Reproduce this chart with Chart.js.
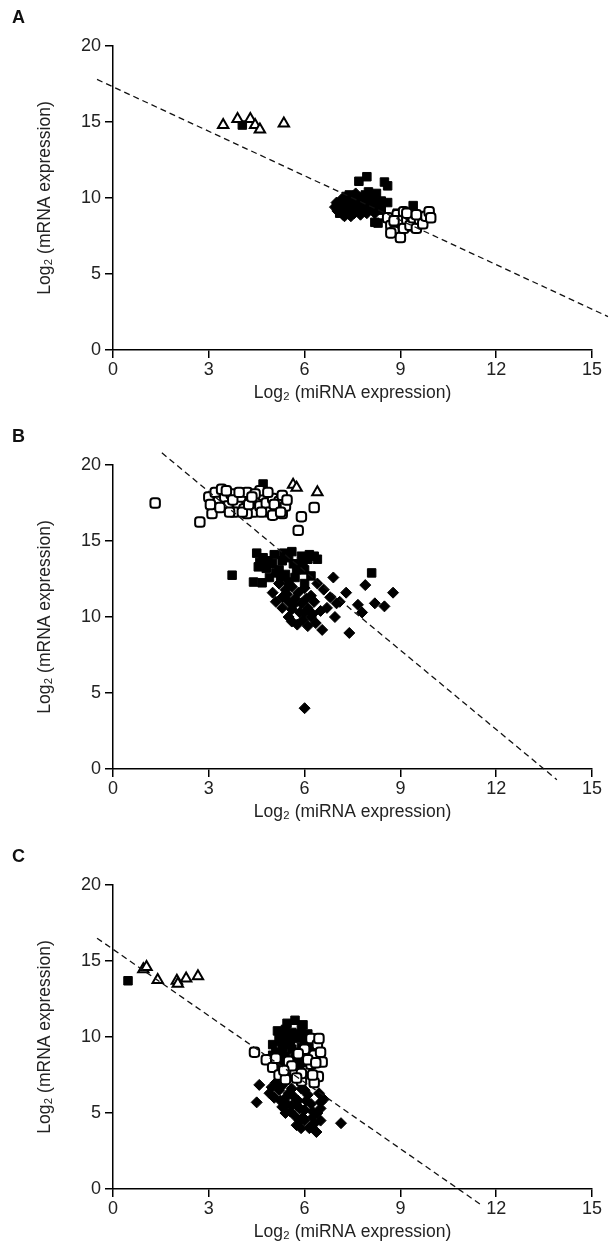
<!DOCTYPE html>
<html>
<head>
<meta charset="utf-8">
<script src="https://cdn.jsdelivr.net/npm/chart.js@4.4.0/dist/chart.umd.min.js"></script>
<style>
  html, body { margin: 0; background: #fff; overflow: hidden; }
  .panel { position: absolute; left: 0; width: 609px; height: 419px; }
  .tag { position: absolute; left: 12px; top: 7px; font: bold 18px "Liberation Sans", Arial, sans-serif; color: #111; }
</style>
</head>
<body>
<div class="panel" style="top:0px"><canvas id="chartA" width="609" height="419"></canvas><div class="tag">A</div></div>
<div class="panel" style="top:419px"><canvas id="chartB" width="609" height="419"></canvas><div class="tag">B</div></div>
<div class="panel" style="top:839px"><canvas id="chartC" width="609" height="419"></canvas><div class="tag">C</div></div>
<script>
const xTicks = [0, 3, 6, 9, 12, 15];
const yTicks = [0, 5, 10, 15, 20];
const xTitle = "Log\u2082 (miRNA expression)";
const yTitle = "Log\u2082 (mRNA expression)";

// panel A
const aTriangles = [[3.45,14.8],[3.9,15.2],[4.3,15.2],[4.45,14.8],[4.6,14.5],[5.35,14.9]];
const aFilledSquares = [[4.05,14.8],[7.7,11.1],[7.95,11.4],[8.5,11.05],[8.6,10.8],[8.6,9.7],[9.4,9.5],
  [8.2,8.4],[8.3,8.35],[7.9,10.2],[8.0,10.4],[8.1,10.1],[8.2,9.9],[7.8,10.0],[8.3,9.4],[7.4,10.2],
  [7.5,9.9],[7.2,9.5],[7.0,9.4],[7.1,9.0],[7.6,9.6],[7.8,9.3],[8.0,9.7],[8.4,9.2],[8.7,8.6],[9.0,8.3],
  [9.2,8.1],[8.9,9.0],[9.5,8.4],[9.7,8.8],[7.3,10.1],[7.9,9.8],[8.25,10.3],[7.7,10.05],[8.4,9.8]];
const aDiamonds = [[6.95,9.4],[7.05,9.1],[7.2,8.9],[7.35,9.2],[7.45,8.8],[7.55,9.0],[7.65,9.3],[7.75,8.9],
  [7.9,9.1],[7.3,9.6],[7.5,9.5],[7.4,10.0],[7.6,10.3],[7.7,9.7],[7.85,9.5],[8.0,9.3],[8.1,9.6],[8.2,9.0],
  [7.15,9.3],[7.25,8.8],[7.45,9.7],[7.6,9.1],[8.1,9.4],[7.0,9.7],[7.15,9.9],[7.35,9.45],[7.55,9.35],[7.95,9.0]];
const aOpenSquares = [[8.6,8.7],[8.7,8.2],[8.8,7.8],[8.9,8.9],[9.0,7.4],[9.0,8.5],[9.1,9.1],[9.1,8.0],
  [9.2,8.6],[9.3,8.2],[9.3,8.9],[9.4,8.7],[9.5,8.0],[9.6,8.6],[9.7,8.3],[9.8,8.8],[9.9,9.1],[9.95,8.7],
  [8.8,8.5],[9.2,9.0],[8.7,7.7],[9.5,8.9]];
const aLine = [[-0.5,17.8],[15.5,2.2]];

// panel B
const bTriangles = [[5.64,18.7],[5.75,18.5],[6.4,18.2]];
const bFilledSquares = [[4.7,18.75],[3.73,12.75],[4.4,12.3],[4.67,12.25],[8.1,12.9],[4.5,14.2],[4.6,13.6],
  [4.8,13.2],[4.7,13.9],[5.0,13.5],[5.2,13.1],[5.3,13.7],[5.5,13.9],[5.6,14.3],[5.8,13.4],[5.9,14.0],
  [6.1,13.8],[6.3,14.0],[6.4,13.8],[5.4,12.8],[5.7,12.6],[6.0,13.1],[5.1,12.9],[6.2,12.7],[4.9,12.6],
  [5.5,12.3],[6.0,12.2],[4.55,13.3],[4.85,13.7],[5.05,14.1],[5.35,14.2],[5.65,13.5],[5.95,13.6],
  [6.15,14.1],[5.25,12.6],[5.75,13.1]];
const bDiamonds = [[5.2,12.2],[5.4,11.8],[5.6,12.0],[5.8,11.6],[6.0,11.9],[6.2,11.4],[5.3,11.3],[5.5,11.0],
  [5.7,11.2],[5.9,10.9],[6.1,10.6],[6.3,11.0],[6.5,10.4],[5.5,10.0],[5.77,9.5],[6.2,10.0],[6.55,9.15],
  [7.4,8.95],[6.95,10.0],[7.0,10.9],[7.3,11.6],[7.67,10.8],[7.8,10.3],[6.9,12.6],[7.9,12.1],[8.77,11.6],
  [8.2,10.9],[8.5,10.7],[6.0,4.0],[6.6,11.8],[6.8,11.3],[7.1,11.0],[5.0,11.6],[6.4,12.2],[5.6,10.5],[6.0,10.3],
  [5.1,11.0],[5.3,10.6],[5.45,11.5],[5.65,10.8],[5.85,10.3],[6.05,11.2],[6.25,10.2],[5.95,9.8],[5.6,9.7],
  [6.35,9.6],[6.7,10.6],[6.1,9.4]];
const bOpenSquares = [[1.32,17.5],[2.72,16.25],[3.1,16.8],[5.8,15.7],[5.9,16.6],[6.3,17.2],[3.0,17.9],
  [3.2,18.2],[3.3,17.6],[3.5,17.9],[3.6,17.3],[3.7,18.1],[3.9,17.5],[4.0,17.9],[4.1,17.1],[4.2,18.2],
  [4.3,17.6],[4.4,16.9],[4.5,17.8],[4.6,17.3],[4.7,18.0],[4.8,17.5],[4.9,16.9],[5.0,17.8],[5.1,17.2],
  [5.2,17.6],[5.3,16.8],[5.4,17.3],[5.0,16.7],[4.2,16.8],[3.8,16.9],[5.3,18.0],[4.6,18.3],[3.4,18.4],
  [3.05,17.4],[3.35,17.2],[3.55,18.3],[3.75,17.7],[3.95,18.2],[4.05,16.9],[4.25,17.4],[4.45,18.1],
  [4.65,16.9],[4.85,18.2],[5.05,17.4],[5.25,16.9],[5.45,17.7],[4.35,17.9],[3.65,16.9]];
const bLine = [[1.53,20.8],[13.9,-0.7]];

// panel C
const cTriangles = [[0.95,14.45],[1.05,14.6],[1.4,13.75],[2.0,13.7],[2.03,13.5],[2.29,13.85],[2.66,14.0]];
const cFilledSquares = [[0.47,13.7],[5.7,11.1],[5.4,10.5],[5.6,10.3],[5.9,10.5],[6.1,10.2],[5.2,10.0],
  [5.5,9.8],[5.8,9.9],[6.0,9.6],[5.3,9.4],[5.6,9.2],[5.9,9.3],[6.2,9.0],[5.1,9.0],[5.4,8.7],[5.7,8.6],
  [6.0,8.4],[5.2,8.3],[5.5,8.0],[5.8,7.9],[6.1,8.8],[5.35,10.2],[5.0,9.5],[5.95,10.8],[5.15,10.4],
  [5.45,10.9],[5.65,10.0],[5.85,10.2],[6.05,10.0],[5.25,9.7],[5.55,9.5],[5.75,9.0],[5.95,8.7],[5.3,8.9],
  [5.45,8.4],[5.65,8.3],[5.85,8.1],[5.2,7.9],[5.0,8.8],[6.15,9.4],[5.5,7.6]];
const cDiamonds = [[4.58,6.85],[4.5,5.7],[4.97,6.7],[7.14,4.33],[5.89,4.0],[6.37,3.75],[6.5,4.5],[5.2,6.5],
  [5.4,6.0],[5.6,5.5],[5.8,5.8],[6.0,5.2],[6.2,5.6],[6.4,5.0],[5.3,5.4],[5.5,6.3],[5.7,4.8],[5.9,6.6],
  [6.1,6.2],[6.3,4.3],[6.5,5.3],[6.6,5.9],[5.1,7.0],[5.4,5.0],[6.0,4.5],[5.75,4.2],[6.15,4.0],[6.45,6.3],
  [4.9,6.3],[5.05,6.0],[5.25,5.8],[5.45,5.6],[5.65,6.1],[5.85,5.3],[6.05,5.8],[6.25,5.1],[5.55,5.1],
  [5.75,5.5],[5.95,4.7],[6.25,4.7],[6.5,5.7],[5.3,6.8],[5.6,6.6],[6.0,6.5],[6.2,4.1],[5.85,4.5]];
const cOpenSquares = [[4.43,9.0],[4.8,8.5],[5.0,8.0],[5.2,7.5],[5.4,7.2],[6.2,9.9],[6.4,9.5],[6.55,8.35],
  [6.43,7.4],[6.3,8.8],[6.1,7.8],[5.9,7.1],[5.7,7.6],[6.3,7.0],[5.5,8.4],[6.0,9.2],[6.5,9.0],[5.1,8.6],
  [6.2,8.2],[5.8,8.9],[5.6,8.1],[5.9,7.6],[6.1,8.5],[6.35,8.3],[5.35,7.8],[5.75,7.3],[6.45,9.9],[6.25,7.5]];
const cLine = [[-0.5,16.5],[11.5,-1.0]];

const FONT = '"Liberation Sans", Arial, sans-serif';
const pts = arr => arr.map(([x, y]) => ({ x, y }));

function makeChart(id, tri, fsq, dia, osq, fit) {
  new Chart(document.getElementById(id), {
    type: "scatter",
    data: {
      datasets: [
        { type: "line", data: pts(fit), borderColor: "#111", borderWidth: 1.3, borderDash: [6, 4],
          pointRadius: 0, clip: false, order: 0 },
        { data: pts(osq), pointStyle: "rectRounded", radius: 5.5, borderWidth: 2,
          borderColor: "#000", backgroundColor: "#fff", order: 1 },
        { data: pts(tri), pointStyle: "triangle", radius: 6, borderWidth: 2,
          borderColor: "#000", backgroundColor: "#fff", order: 2 },
        { data: pts(fsq), pointStyle: "rect", radius: 6, borderWidth: 1,
          borderColor: "#000", backgroundColor: "#000", order: 3 },
        { data: pts(dia), pointStyle: "rectRot", radius: 5.5, borderWidth: 1,
          borderColor: "#000", backgroundColor: "#000", order: 4 }
      ]
    },
    options: {
      responsive: false,
      animation: false,
      events: [],
      layout: { padding: { top: 46, right: 17, left: 0, bottom: 0 } },
      plugins: { legend: { display: false }, tooltip: { enabled: false } },
      scales: {
        x: {
          type: "linear", min: 0, max: 15,
          afterBuildTicks: s => { s.ticks = xTicks.map(v => ({ value: v })); },
          afterFit: s => { s.height = 69; },
          border: { display: true, color: "#000", width: 1.5 },
          grid: { display: true, drawOnChartArea: false, drawTicks: true, tickLength: 8, color: "#000", lineWidth: 1.5 },
          ticks: { color: "#222", font: { family: FONT, size: 18 }, padding: 1, maxRotation: 0 },
          title: { display: true, text: xTitle, color: "#222", font: { family: FONT, size: 17.5 }, padding: { bottom: 15 } }
        },
        y: {
          type: "linear", min: 0, max: 20,
          afterBuildTicks: s => { s.ticks = yTicks.map(v => ({ value: v })); },
          afterFit: s => { s.width = 113; },
          border: { display: true, color: "#000", width: 1.5 },
          grid: { display: true, drawOnChartArea: false, drawTicks: true, tickLength: 8, color: "#000", lineWidth: 1.5 },
          ticks: { color: "#222", font: { family: FONT, size: 18 }, padding: 4 },
          title: { display: true, text: yTitle, color: "#222", font: { family: FONT, size: 17.5 }, padding: { top: 35 } }
        }
      }
    }
  });
}

makeChart("chartA", aTriangles, aFilledSquares, aDiamonds, aOpenSquares, aLine);
makeChart("chartB", bTriangles, bFilledSquares, bDiamonds, bOpenSquares, bLine);
makeChart("chartC", cTriangles, cFilledSquares, cDiamonds, cOpenSquares, cLine);
</script>
</body>
</html>
